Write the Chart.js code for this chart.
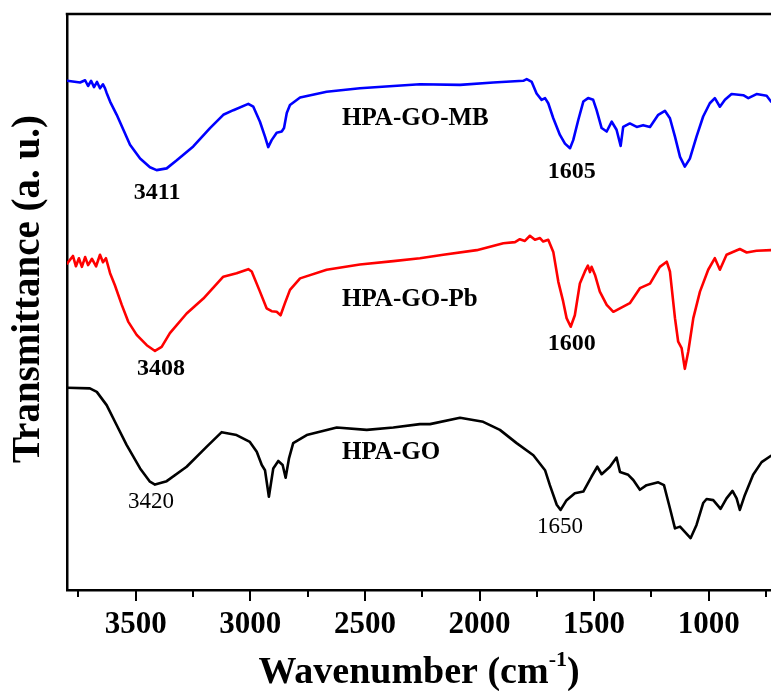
<!DOCTYPE html>
<html>
<head>
<meta charset="utf-8">
<script src="https://cdn.jsdelivr.net/npm/chart.js@4/dist/chart.umd.min.js"></script>
<style>
  html, body { margin: 0; padding: 0; background: #ffffff; }
  #wrap { width: 771px; height: 691px; }
</style>
</head>
<body>
<div id="wrap"><canvas id="c" width="771" height="691"></canvas></div>
<script>
// ---------- data ----------
const seriesNames = ["HPA-GO-MB", "HPA-GO-Pb", "HPA-GO"];

const wnMB = [3799,3743,3721,3708,3695,3682,3669,3656,3643,3634,3627,3612,3583,3554,3525,3481,3438,3409,3365,3321,3249,3176,3118,3074,3009,2987,2958,2936,2922,2907,2885,2863,2853,2841,2827,2783,2667,2522,2376,2260,2085,1940,1809,1794,1772,1751,1729,1714,1700,1678,1649,1627,1605,1591,1569,1547,1526,1504,1489,1467,1445,1423,1402,1384,1373,1344,1314,1286,1256,1220,1191,1169,1147,1125,1104,1082,1053,1024,995,973,951,929,900,849,827,791,747,728];
const tMB  = [88.4,88.1,88.5,87.5,88.4,87.3,88.2,87.1,87.8,87.1,86.3,84.8,82.5,79.9,77.3,74.9,73.4,72.9,73.2,74.6,77.0,80.2,82.5,83.3,84.4,83.9,81.3,78.7,76.9,78.1,79.4,79.6,80.2,82.8,84.2,85.5,86.5,87.1,87.5,87.8,87.7,88.1,88.4,88.7,88.2,86.2,85.1,85.4,84.5,81.9,79.0,77.5,76.7,78.1,81.6,84.8,85.4,85.1,83.3,80.2,79.6,81.3,79.9,77.1,80.4,81.0,80.4,80.7,80.4,82.5,83.2,81.9,78.7,75.2,73.5,74.9,78.7,82.2,84.5,85.4,83.9,85.1,86.1,85.9,85.4,86.1,85.8,84.8];

const wnPb = [3799,3774,3761,3748,3735,3721,3708,3691,3673,3656,3643,3630,3612,3591,3561,3533,3496,3452,3416,3387,3351,3278,3205,3118,3060,3009,2994,2958,2929,2907,2885,2868,2849,2827,2783,2667,2522,2376,2260,2158,2012,1896,1845,1824,1802,1780,1758,1736,1722,1700,1678,1656,1635,1620,1602,1584,1562,1540,1527,1518,1511,1496,1475,1445,1416,1344,1300,1256,1213,1183,1169,1147,1133,1118,1104,1089,1067,1038,1002,973,951,922,864,834,791,728];
const tPb  = [56.7,58.0,56.2,57.6,56.1,57.8,56.4,57.5,56.2,58.2,56.9,57.6,55.0,52.9,49.5,46.6,44.3,42.5,41.5,42.2,44.6,48.0,50.6,54.4,55.0,55.7,55.3,51.8,48.9,48.4,48.3,47.7,49.8,52.1,54.1,55.6,56.5,57.1,57.6,58.2,59.0,60.2,60.4,60.9,60.6,61.5,60.8,61.1,60.5,60.8,58.7,53.5,50.1,47.2,45.7,47.7,53.2,55.3,56.3,55.2,56.1,54.7,51.8,49.5,48.3,49.8,52.4,53.2,56.1,57.0,55.3,47.2,43.1,42.0,38.4,41.4,47.2,51.8,55.6,57.6,55.6,58.2,59.2,58.6,58.9,59.0];

const wnGO = [3799,3700,3670,3627,3583,3540,3481,3438,3416,3365,3278,3190,3125,3060,3002,2972,2950,2936,2919,2900,2878,2859,2846,2831,2813,2754,2623,2492,2376,2260,2216,2085,1984,1911,1838,1765,1714,1693,1663,1646,1620,1584,1547,1511,1486,1467,1431,1402,1387,1351,1329,1300,1271,1220,1195,1169,1147,1125,1104,1079,1053,1024,1009,980,948,922,896,878,864,842,806,769,728];
const tGO  = [35.1,35.0,34.4,32.1,28.6,25.2,21.1,18.8,18.3,18.9,21.4,24.9,27.4,26.9,25.7,24.0,21.7,20.8,16.2,21.1,22.4,21.7,19.5,22.9,25.5,26.9,28.2,27.8,28.2,28.8,28.8,29.9,29.2,27.8,25.5,23.4,20.8,18.2,14.8,13.9,15.6,16.8,17.1,19.7,21.4,20.1,21.4,23.0,20.5,20.0,19.1,17.4,18.2,18.7,18.2,14.2,10.7,11.0,10.1,9.0,11.3,15.1,15.8,15.6,14.1,15.9,17.2,15.9,13.9,16.5,20.0,22.2,23.3];

const tickValues = [3500, 3000, 2500, 2000, 1500, 1000];
const minorTickValues = [3750, 3250, 2750, 2250, 1750, 1250, 750];

// peak / series annotations: text, wavenumber, transmittance
const annTexts = ["HPA-GO-MB", "3411", "1605", "HPA-GO-Pb", "3408", "1600", "HPA-GO", "3420", "1650"];
const annWn    = [2600, 3407, 1597, 2600, 3390, 1597, 2600, 3433, 1649];
const annT     = [81.8, 68.9, 72.6, 50.5, 38.4, 42.7, 23.8, 15.3, 10.9];

const yTitle = "Transmittance (a. u.)";
const xTitleMain = "Wavenumber (cm";
const xTitleSup = "-1";
const xTitleEnd = ")";

// ---------- styles ----------
const SERIF = "'Liberation Serif', 'Times New Roman', serif";
const colors = ["#0000ff", "#ff0000", "#000000"];
const annAlign = ["left", "center", "center", "left", "center", "center", "left", "center", "center"];
const annBold  = [true, true, true, true, true, true, true, false, false];
const annSize  = [25, 24, 24, 25, 24, 24, 25, 23, 23];

function pts(xs, ys) { return xs.map((x, i) => ({ x: x, y: ys[i] })); }

const framePlugin = {
  id: 'frame',
  afterDraw(chart) {
    const ctx = chart.ctx;
    const a = chart.chartArea;
    const xs = chart.scales.x;
    const ys = chart.scales.y;
    ctx.save();
    ctx.strokeStyle = '#000';
    ctx.lineWidth = 2.5;
    // top border
    ctx.beginPath();
    ctx.moveTo(a.left - 1.25, a.top);
    ctx.lineTo(a.right, a.top);
    ctx.stroke();
    // ticks (outward)
    ctx.lineWidth = 2;
    tickValues.forEach(v => {
      const px = Math.round(xs.getPixelForValue(v));
      ctx.beginPath(); ctx.moveTo(px, a.bottom); ctx.lineTo(px, a.bottom + 11); ctx.stroke();
    });
    minorTickValues.forEach(v => {
      const px = Math.round(xs.getPixelForValue(v));
      ctx.beginPath(); ctx.moveTo(px, a.bottom); ctx.lineTo(px, a.bottom + 7); ctx.stroke();
    });
    // annotations
    ctx.fillStyle = '#000';
    ctx.textBaseline = 'middle';
    annTexts.forEach((t, i) => {
      ctx.font = (annBold[i] ? 'bold ' : '') + annSize[i] + 'px ' + SERIF;
      ctx.textAlign = annAlign[i];
      ctx.fillText(t, xs.getPixelForValue(annWn[i]), ys.getPixelForValue(annT[i]));
    });
    // y title (rotated)
    ctx.save();
    ctx.translate(29, 289);
    ctx.rotate(-Math.PI / 2);
    ctx.font = 'bold 39px ' + SERIF;
    ctx.textAlign = 'center';
    ctx.textBaseline = 'middle';
    ctx.fillText(yTitle, 0, 0);
    ctx.restore();
    // x title with superscript
    const fBig = 'bold 38px ' + SERIF;
    const fSup = 'bold 22px ' + SERIF;
    ctx.font = fBig; const w1 = ctx.measureText(xTitleMain).width; const w3 = ctx.measureText(xTitleEnd).width;
    ctx.font = fSup; const w2 = ctx.measureText(xTitleSup).width;
    const total = w1 + w2 + w3;
    const cx = (a.left + a.right) / 2;
    const x0 = cx - total / 2;
    const base = 683;
    ctx.textAlign = 'left';
    ctx.textBaseline = 'alphabetic';
    ctx.font = fBig; ctx.fillText(xTitleMain, x0, base);
    ctx.font = fSup; ctx.fillText(xTitleSup, x0 + w1, base - 17);
    ctx.font = fBig; ctx.fillText(xTitleEnd, x0 + w1 + w2, base);
    ctx.restore();
  }
};

new Chart(document.getElementById('c'), {
  type: 'line',
  data: {
    datasets: [
      { label: seriesNames[0], data: pts(wnMB, tMB), borderColor: colors[0] },
      { label: seriesNames[1], data: pts(wnPb, tPb), borderColor: colors[1] },
      { label: seriesNames[2], data: pts(wnGO, tGO), borderColor: colors[2] }
    ]
  },
  options: {
    responsive: false,
    devicePixelRatio: 1,
    animation: false,
    events: [],
    layout: { padding: { top: 14, right: 0, left: 0, bottom: 0 } },
    elements: {
      point: { radius: 0 },
      line: { borderWidth: 2.6, tension: 0, fill: false, borderJoinStyle: 'round', borderCapStyle: 'round' }
    },
    plugins: { legend: { display: false }, tooltip: { enabled: false } },
    scales: {
      x: {
        type: 'linear',
        reverse: true,
        min: 728,
        max: 3800,
        afterBuildTicks: (s) => { s.ticks = tickValues.map(v => ({ value: v })); },
        afterFit: (s) => { s.height = 101; },
        grid: { display: false, drawTicks: false },
        border: { display: true, color: '#000', width: 2.5 },
        ticks: {
          color: '#000',
          padding: 16,
          maxRotation: 0,
          autoSkip: false,
          font: { family: SERIF, size: 31, weight: 'bold' },
          callback: (v) => String(v)
        },
        title: { display: false }
      },
      y: {
        min: 0,
        max: 100,
        afterFit: (s) => { s.width = 67; },
        grid: { display: false, drawTicks: false },
        border: { display: true, color: '#000', width: 2.5 },
        ticks: { display: false },
        title: { display: false }
      }
    }
  },
  plugins: [framePlugin]
});
</script>
</body>
</html>
